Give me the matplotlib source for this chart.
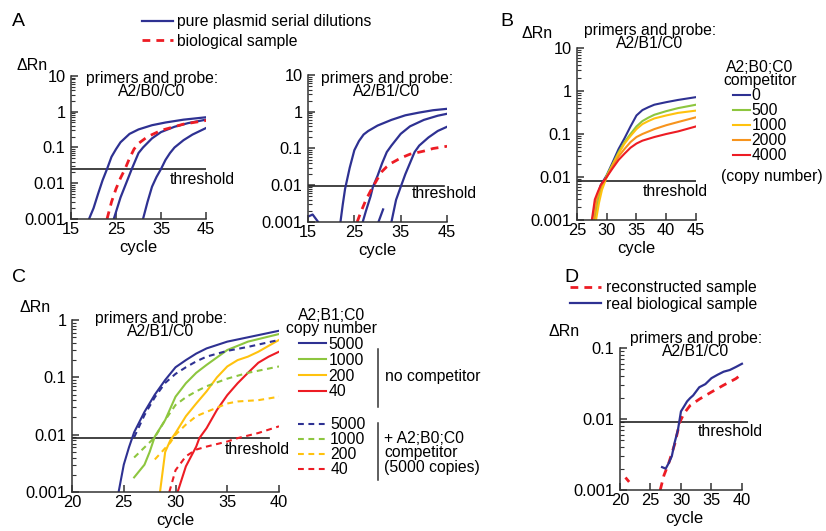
import numpy as np
import matplotlib.pyplot as plt
from matplotlib.lines import Line2D
from matplotlib.ticker import FixedLocator, FixedFormatter

nan = np.nan

# ---- panel A, left: A2/B0/C0 ----
a1_cyc_1 = [19, 20, 21, 22, 23, 24, 25, 26, 28, 30, 33, 36, 40, 45]
a1_val_1 = [0.001, 0.002, 0.005, 0.012, 0.025, 0.055, 0.09, 0.14, 0.24, 0.32, 0.42, 0.5, 0.6, 0.7]
a1_cyc_2 = [24.5, 26, 27.5, 28.5, 30, 31, 33, 35, 38, 41, 45]
a1_val_2 = [0.001, 0.004, 0.012, 0.025, 0.07, 0.1, 0.18, 0.27, 0.38, 0.48, 0.6]
a1_cyc_3 = [31, 32, 33, 34, 35, 36, 37, 38, 40, 42, 45]
a1_val_3 = [0.001, 0.003, 0.008, 0.015, 0.025, 0.045, 0.07, 0.1, 0.16, 0.23, 0.35]
a1_cyc_bio = [23, 24, 25, 26, 27, 28, 29, 30, 32, 35, 40, 45]
a1_val_bio = [0.001, 0.003, 0.007, 0.014, 0.025, 0.05, 0.09, 0.13, 0.2, 0.3, 0.45, 0.57]
a1_thr = 0.025

# ---- panel A, right: A2/B1/C0 ----
a2_cyc_0 = [15, 16, 17.2]
a2_val_0 = [0.0014, 0.0016, 0.001]
a2_cyc_1 = [22, 22.5, 23, 24, 25, 26, 27, 28, 30, 33, 36, 39, 42, 45]
a2_val_1 = [0.001, 0.003, 0.008, 0.03, 0.09, 0.16, 0.24, 0.3, 0.42, 0.6, 0.8, 0.95, 1.1, 1.2]
a2_cyc_2 = [26.8, 27.5, 28.5, 29, 30, 31, 32, 33, 35, 37, 40, 43, 45]
a2_val_2 = [0.001, 0.002, 0.005, 0.009, 0.018, 0.04, 0.08, 0.12, 0.25, 0.4, 0.6, 0.78, 0.88]
a2_cyc_3 = [30.2, 31.2, nan, 33, 33.5, 34, 35, 36, 37, 38, 39, 41, 43, 45]
a2_val_3 = [0.001, 0.0022, nan, 0.001, 0.002, 0.004, 0.009, 0.02, 0.04, 0.08, 0.12, 0.2, 0.3, 0.39]
a2_cyc_bio = [25.6, 26.5, 27.5, 28.5, 29, 30, 31, 32, 33, 35, 37, 40, 42, 45]
a2_val_bio = [0.001, 0.002, 0.004, 0.007, 0.009, 0.015, 0.024, 0.032, 0.04, 0.055, 0.07, 0.085, 0.1, 0.115]
a2_thr = 0.0093

# ---- panel B: competitor copy number ----
b_labels = ['0', '500', '1000', '2000', '4000']
b_cyc_0 = [27.6, 28, 28.5, 29, 30, 31, 32, 33, 34, 35, 36, 37, 38, 40, 42, 45]
b_val_0 = [0.001, 0.002, 0.004, 0.0065, 0.011, 0.022, 0.045, 0.08, 0.15, 0.27, 0.36, 0.42, 0.48, 0.55, 0.62, 0.72]
b_cyc_500 = [28, 28.5, 29, 30, 31, 32, 33, 34, 35, 36, 37, 38, 40, 42, 45]
b_val_500 = [0.001, 0.0025, 0.005, 0.011, 0.02, 0.038, 0.065, 0.1, 0.15, 0.2, 0.24, 0.28, 0.34, 0.4, 0.48]
b_cyc_1000 = [28.2, 28.7, 29.2, 30, 31, 32, 33, 34, 35, 36, 37, 38, 40, 42, 45]
b_val_1000 = [0.001, 0.0025, 0.005, 0.01, 0.019, 0.035, 0.06, 0.09, 0.13, 0.17, 0.2, 0.23, 0.27, 0.31, 0.35]
b_cyc_2000 = [27.8, 28.3, 29, 30, 31, 32, 33, 34, 35, 36, 38, 40, 42, 45]
b_val_2000 = [0.001, 0.003, 0.006, 0.01, 0.018, 0.03, 0.045, 0.065, 0.085, 0.1, 0.13, 0.16, 0.19, 0.245]
b_cyc_4000 = [27.5, 28, 28.5, 29, 30, 31, 32, 33, 34, 35, 36, 38, 40, 42, 45]
b_val_4000 = [0.001, 0.003, 0.0045, 0.0065, 0.01, 0.016, 0.025, 0.035, 0.048, 0.06, 0.07, 0.085, 0.1, 0.115, 0.15]
b_thr = 0.0081

# ---- panel C: A2;B1;C0 copy number, without / with competitor ----
c_labels = ['5000', '1000', '200', '40']
c_cyc_5000 = [24.5, 25, 25.5, 26, 27, 28, 29, 30, 31, 32, 33, 35, 37, 40]
c_val_5000 = [0.001, 0.003, 0.006, 0.011, 0.025, 0.05, 0.09, 0.15, 0.2, 0.26, 0.32, 0.42, 0.5, 0.65]
c_cyc_1000 = [26, 27, 27.5, 28, 29, 30, 31, 32, 33, 35, 37, 40]
c_val_1000 = [0.0018, 0.003, 0.005, 0.0093, 0.018, 0.046, 0.079, 0.12, 0.165, 0.3, 0.42, 0.57]
c_cyc_200 = [28.5, 29, 29.5, 30, 31, 32, 33, 34, 35, 36, 37, 38, 40]
c_val_200 = [0.001, 0.005, 0.008, 0.0107, 0.021, 0.035, 0.057, 0.1, 0.155, 0.2, 0.23, 0.28, 0.45]
c_cyc_40 = [30.2, 31, 32, 32.3, 33, 34, 35, 36, 37, 38, 39, 40]
c_val_40 = [0.001, 0.0028, 0.0062, 0.0087, 0.013, 0.027, 0.049, 0.079, 0.12, 0.18, 0.23, 0.28]
c_cyc_5000c = [26, 27, 28, 29, 30, 31, 32, 33, 35, 37, 40]
c_val_5000c = [0.009, 0.022, 0.045, 0.08, 0.115, 0.15, 0.19, 0.23, 0.29, 0.34, 0.45]
c_cyc_1000c = [26, 27, 28, 29, 30, 31, 32, 33, 35, 37, 40]
c_val_1000c = [0.004, 0.006, 0.009, 0.018, 0.033, 0.045, 0.057, 0.07, 0.095, 0.12, 0.155]
c_cyc_200c = [28, 29.5, 30, 31, 32, 33, 35, 36, 38, 40]
c_val_200c = [0.0037, 0.0073, 0.01, 0.015, 0.021, 0.025, 0.035, 0.038, 0.04, 0.046]
c_cyc_40c = [29.4, 30, 31, 32, 33, 35, 36, 38, 40]
c_val_40c = [0.001, 0.0024, 0.0042, 0.0055, 0.0062, 0.0076, 0.0087, 0.0107, 0.014]
c_thr = 0.0087

# ---- panel D: reconstructed vs real sample ----
d_cyc_rec = [20.9, 21.5, nan, 26.6, 27.2, 28, 29, 29.8, 30.5, 31.5, 33, 35, 37, 39, 40]
d_val_rec = [0.0015, 0.0013, nan, 0.001, 0.0016, 0.0024, 0.0045, 0.009, 0.012, 0.0155, 0.019, 0.024, 0.03, 0.037, 0.043]
d_cyc_real = [26.9, 27.5, 28, 28.5, 29, 29.5, 30, 30.5, 31, 31.5, 32, 33, 34, 35, 36, 37, 38, 39, 40]
d_val_real = [0.0021, 0.002, 0.0024, 0.003, 0.0048, 0.007, 0.0128, 0.015, 0.0177, 0.0197, 0.0215, 0.028, 0.031,
              0.0376, 0.042, 0.0464, 0.049, 0.054, 0.06]
d_thr = 0.009

navy = '#2e3192'
red = '#ed1c24'
green = '#8dc63f'
yellow = '#ffc20e'
orange = '#f7941d'
dash = (0, (2.8, 2.2))
FS = 11.3

plt.rcParams['font.family'] = ['Liberation Sans', 'DejaVu Sans']
plt.rcParams['font.size'] = FS

W, H = 826, 531
fig = plt.figure(figsize=(W / 100, H / 100), dpi=100)


def T(x, y, s, **kw):
    kw.setdefault('ha', 'left')
    kw.setdefault('va', 'center')
    fig.text(x / W, 1 - y / H, s, **kw)


def setup(ax, xlim, xticks, ylim, yticks, ylabels):
    ax.set_yscale('log')
    ax.set_xlim(xlim)
    ax.set_ylim(ylim)
    ax.set_xticks(xticks)
    ax.yaxis.set_major_locator(FixedLocator(yticks))
    ax.yaxis.set_major_formatter(FixedFormatter(ylabels))
    for s in ['top', 'right']:
        ax.spines[s].set_visible(False)
    for s in ['left', 'bottom']:
        ax.spines[s].set_linewidth(1.1)
        ax.spines[s].set_color('#333333')
    ax.tick_params(which='both', direction='in', color='#333333', labelsize=11.8)
    ax.tick_params(axis='x', pad=2.5)
    ax.tick_params(axis='y', pad=4)
    ax.tick_params(which='major', length=5, width=1.1)
    ax.tick_params(which='minor', length=3, width=0.8)
    ax.set_xlabel('cycle', fontsize=12, labelpad=2)
    ax.patch.set_visible(False)


# panel A left
ax = fig.add_axes([0.086, 0.5876, 0.1634, 0.2693])
setup(ax, (15, 45), [15, 25, 35, 45], (0.001, 10), [0.001, 0.01, 0.1, 1, 10], ['0.001', '0.01', '0.1', '1', '10'])
ax.plot([15, 45], [a1_thr, a1_thr], color='#222222', lw=1.2)
h_pure, = ax.plot(a1_cyc_1, a1_val_1, color=navy, lw=1.6, label='pure plasmid serial dilutions')
ax.plot(a1_cyc_2, a1_val_2, color=navy, lw=1.6)
ax.plot(a1_cyc_3, a1_val_3, color=navy, lw=1.6)
h_bio, = ax.plot(a1_cyc_bio, a1_val_bio, color=red, lw=2, ls=dash, label='biological sample')

# panel A right
ax = fig.add_axes([0.3729, 0.5819, 0.1683, 0.2769])
setup(ax, (15, 45), [15, 25, 35, 45], (0.001, 10), [0.001, 0.01, 0.1, 1, 10], ['0.001', '0.01', '0.1', '1', '10'])
ax.plot([15, 44.3], [a2_thr, a2_thr], color='#222222', lw=1.2)
for cx, cy in [(a2_cyc_0, a2_val_0), (a2_cyc_1, a2_val_1), (a2_cyc_2, a2_val_2), (a2_cyc_3, a2_val_3)]:
    ax.plot(cx, cy, color=navy, lw=1.6)
ax.plot(a2_cyc_bio, a2_val_bio, color=red, lw=2, ls=dash)

fig.legend(handles=[h_pure, h_bio], loc='upper left', bbox_to_anchor=(142 / W, 1 - 14 / H),
           frameon=False, fontsize=FS, handlelength=2.0, handletextpad=0.2,
           labelspacing=0.3, borderpad=0, borderaxespad=0)

# panel B
ax = fig.add_axes([0.6985, 0.5857, 0.1441, 0.3239])
setup(ax, (25, 45), [25, 30, 35, 40, 45], (0.001, 10), [0.001, 0.01, 0.1, 1, 10], ['0.001', '0.01', '0.1', '1', '10'])
ax.plot([25, 45], [b_thr, b_thr], color='#222222', lw=1.2)
b_handles = []
for cx, cy, col, lab in [(b_cyc_0, b_val_0, navy, b_labels[0]), (b_cyc_500, b_val_500, green, b_labels[1]),
                         (b_cyc_1000, b_val_1000, yellow, b_labels[2]), (b_cyc_2000, b_val_2000, orange, b_labels[3]),
                         (b_cyc_4000, b_val_4000, red, b_labels[4])]:
    h, = ax.plot(cx, cy, color=col, lw=1.5, label=lab)
    b_handles.append(h)
leg = fig.legend(handles=b_handles, loc='upper left', bbox_to_anchor=(723 / W, 1 - 60 / H),
                 title='A2;B0;C0\ncompetitor', title_fontsize=FS, frameon=False, fontsize=FS,
                 handlelength=1.1, handletextpad=0.1, labelspacing=0.0, borderpad=0, borderaxespad=0)
leg.get_title().set_multialignment('center')
leg.get_title().set_linespacing(0.85)

# panel C
ax = fig.add_axes([0.0872, 0.0734, 0.2506, 0.3239])
setup(ax, (20, 40), [20, 25, 30, 35, 40], (0.001, 1), [0.001, 0.01, 0.1, 1], ['0.001', '0.01', '0.1', '1'])
ax.plot([20, 39], [c_thr, c_thr], color='#222222', lw=1.2)
c_solid, c_dash = [], []
for cx, cy, col, lab in [(c_cyc_5000, c_val_5000, navy, c_labels[0]), (c_cyc_1000, c_val_1000, green, c_labels[1]),
                         (c_cyc_200, c_val_200, yellow, c_labels[2]), (c_cyc_40, c_val_40, red, c_labels[3])]:
    h, = ax.plot(cx, cy, color=col, lw=1.5, label=lab)
    c_solid.append(h)
for cx, cy, col, lab in [(c_cyc_5000c, c_val_5000c, navy, c_labels[0]), (c_cyc_1000c, c_val_1000c, green, c_labels[1]),
                         (c_cyc_200c, c_val_200c, yellow, c_labels[2]), (c_cyc_40c, c_val_40c, red, c_labels[3])]:
    h, = ax.plot(cx, cy, color=col, lw=1.5, ls=dash, label=lab)
    c_dash.append(h)
leg = fig.legend(handles=c_solid, loc='upper left', bbox_to_anchor=(286 / W, 1 - 308 / H),
                 title='A2;B1;C0\ncopy number', title_fontsize=FS, frameon=False, fontsize=FS,
                 handlelength=1.75, handletextpad=0.15, labelspacing=0.05, borderpad=0, borderaxespad=0)
leg.get_title().set_multialignment('center')
leg.get_title().set_linespacing(0.85)
fig.legend(handles=c_dash, loc='upper left', bbox_to_anchor=(298 / W, 1 - 417 / H),
           frameon=False, fontsize=FS, handlelength=1.75, handletextpad=0.3,
           labelspacing=0.0, borderpad=0, borderaxespad=0)
fig.add_artist(Line2D([378 / W, 378 / W], [1 - 349 / H, 1 - 407 / H], color='#333333', lw=1.1))
fig.add_artist(Line2D([378 / W, 378 / W], [1 - 423 / H, 1 - 480 / H], color='#333333', lw=1.1))
T(385, 376, 'no competitor')
T(384, 453, '+ A2;B0;C0\ncompetitor\n(5000 copies)', linespacing=0.95)

# panel D
ax = fig.add_axes([0.7506, 0.0772, 0.155, 0.2674])
setup(ax, (20, 40), [20, 25, 30, 35, 40], (0.001, 0.1), [0.001, 0.01, 0.1], ['0.001', '0.01', '0.1'])
ax.set_xlim(20, 41)
ax.spines['bottom'].set_bounds(20, 40)
ax.plot([20, 41], [d_thr, d_thr], color='#222222', lw=1.2)
h_rec, = ax.plot(d_cyc_rec, d_val_rec, color=red, lw=2, ls=dash, label='reconstructed sample')
h_real, = ax.plot(d_cyc_real, d_val_real, color=navy, lw=1.6, label='real biological sample')
fig.legend(handles=[h_rec, h_real], loc='upper left', bbox_to_anchor=(570 / W, 1 - 280 / H),
           frameon=False, fontsize=FS, handlelength=2.0, handletextpad=0.3,
           labelspacing=0.12, borderpad=0, borderaxespad=0)

# panel letters, y labels, probe annotations, threshold labels
for x, y, s in [(12, 22, 'A'), (500, 22, 'B'), (12, 277, 'C'), (564, 277, 'D')]:
    T(x, y, s, fontsize=14)
for x, y in [(32, 66), (537, 34), (35, 307), (564, 332)]:
    T(x, y, 'ΔRn', ha='center', fontsize=11.5)
for x, y, s in [(152, 79, 'A2/B0/C0'), (387, 79, 'A2/B1/C0'), (650, 31, 'A2/B1/C0'),
                (161, 319, 'A2/B1/C0'), (696, 339, 'A2/B1/C0')]:
    T(x, y + 6, 'primers and probe:\n' + s, ha='center', multialignment='center', linespacing=0.78)
for x, y in [(170, 180), (412, 193), (643, 191), (225, 450), (698, 432)]:
    T(x, y, 'threshold')
T(721, 177, '(copy number)')

fig.savefig('out.png', dpi=100)
